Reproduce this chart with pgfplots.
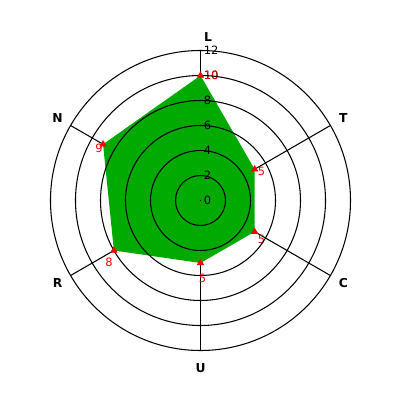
\documentclass[border=0pt]{standalone}
\usepackage{fontspec}
\setmainfont{DejaVu Sans}
\usepackage{pgfplots}
\pgfplotsset{compat=1.18}
\usepgfplotslibrary{polar}
\definecolor{radargreen}{RGB}{0,170,0}
\tikzset{
  tk/.style={font=\fontsize{6.5}{7}\selectfont, inner sep=0pt},
  vl/.style={font=\fontsize{6.5}{7}\selectfont, inner sep=0pt, text=red},
  cl/.style={font=\fontsize{7}{8}\selectfont\bfseries, inner sep=0pt},
}
\begin{document}
\begin{tikzpicture}
\path[use as bounding box] (-4.01,-3.99) rectangle (3.99,4.01);
\begin{polaraxis}[
  at={(0,0)}, anchor=center,
  scale only axis, width=6cm, height=6cm,
  xmin=0, xmax=360, ymin=0, ymax=12,
  xtick=\empty, ytick={2,4,6,8,10},
  yticklabels={}, xticklabels={},
  ymajorgrids, xmajorgrids=false,
  major tick length=0pt,
  grid style={black, line width=0.6pt},
  separate axis lines,
  x axis line style={black, line width=0.6pt},
  y axis line style={draw=none},
  axis on top,
  clip=false,
]
% spokes
\addplot[black, line width=0.6pt, forget plot] coordinates {(90,0) (90,12)};
\addplot[black, line width=0.6pt, forget plot] coordinates {(30,0) (30,12)};
\addplot[black, line width=0.6pt, forget plot] coordinates {(330,0) (330,12)};
\addplot[black, line width=0.6pt, forget plot] coordinates {(270,0) (270,12)};
\addplot[black, line width=0.6pt, forget plot] coordinates {(210,0) (210,12)};
\addplot[black, line width=0.6pt, forget plot] coordinates {(150,0) (150,12)};
% data polygon
\addplot[fill=radargreen, draw=none] coordinates {(90,10) (30,5) (330,5) (270,5) (210,8) (150,9) (90,10)};
\addplot[only marks, red, mark=triangle*, mark size=2pt] coordinates {(90,10) (30,5) (330,5) (270,5) (210,8) (150,9)};
% radial tick labels
\node[tk, anchor=west, xshift=0.06cm] at (axis cs:90,0) {0};
\node[tk, anchor=west, xshift=0.06cm] at (axis cs:90,2) {2};
\node[tk, anchor=west, xshift=0.06cm] at (axis cs:90,4) {4};
\node[tk, anchor=west, xshift=0.06cm] at (axis cs:90,6) {6};
\node[tk, anchor=west, xshift=0.06cm] at (axis cs:90,8) {8};
\node[tk, anchor=west, xshift=0.06cm] at (axis cs:90,10) {10};
\node[tk, anchor=west, xshift=0.06cm] at (axis cs:90,12) {12};
\fill (axis cs:0,0) circle[radius=0.4pt];
% value labels
\node[vl, xshift=0.22cm] at (axis cs:90,10) {10};
\node[vl, xshift=0.14cm, yshift=-0.04cm] at (axis cs:30,5) {5};
\node[vl, xshift=0.14cm, yshift=-0.16cm] at (axis cs:330,5) {5};
\node[vl, xshift=0.04cm, yshift=-0.30cm] at (axis cs:270,5) {5};
\node[vl, xshift=-0.10cm, yshift=-0.24cm] at (axis cs:210,8) {8};
\node[vl, xshift=-0.08cm, yshift=-0.08cm] at (axis cs:150,9) {9};
% category labels
\node[cl, xshift=0.15cm] at (axis cs:90,13.1) {L};
\node[cl] at (axis cs:30,13.2) {T};
\node[cl] at (axis cs:330,13.2) {C};
\node[cl] at (axis cs:270,13.4) {U};
\node[cl] at (axis cs:210,13.2) {R};
\node[cl] at (axis cs:150,13.2) {N};
\end{polaraxis}
\end{tikzpicture}
\end{document}
